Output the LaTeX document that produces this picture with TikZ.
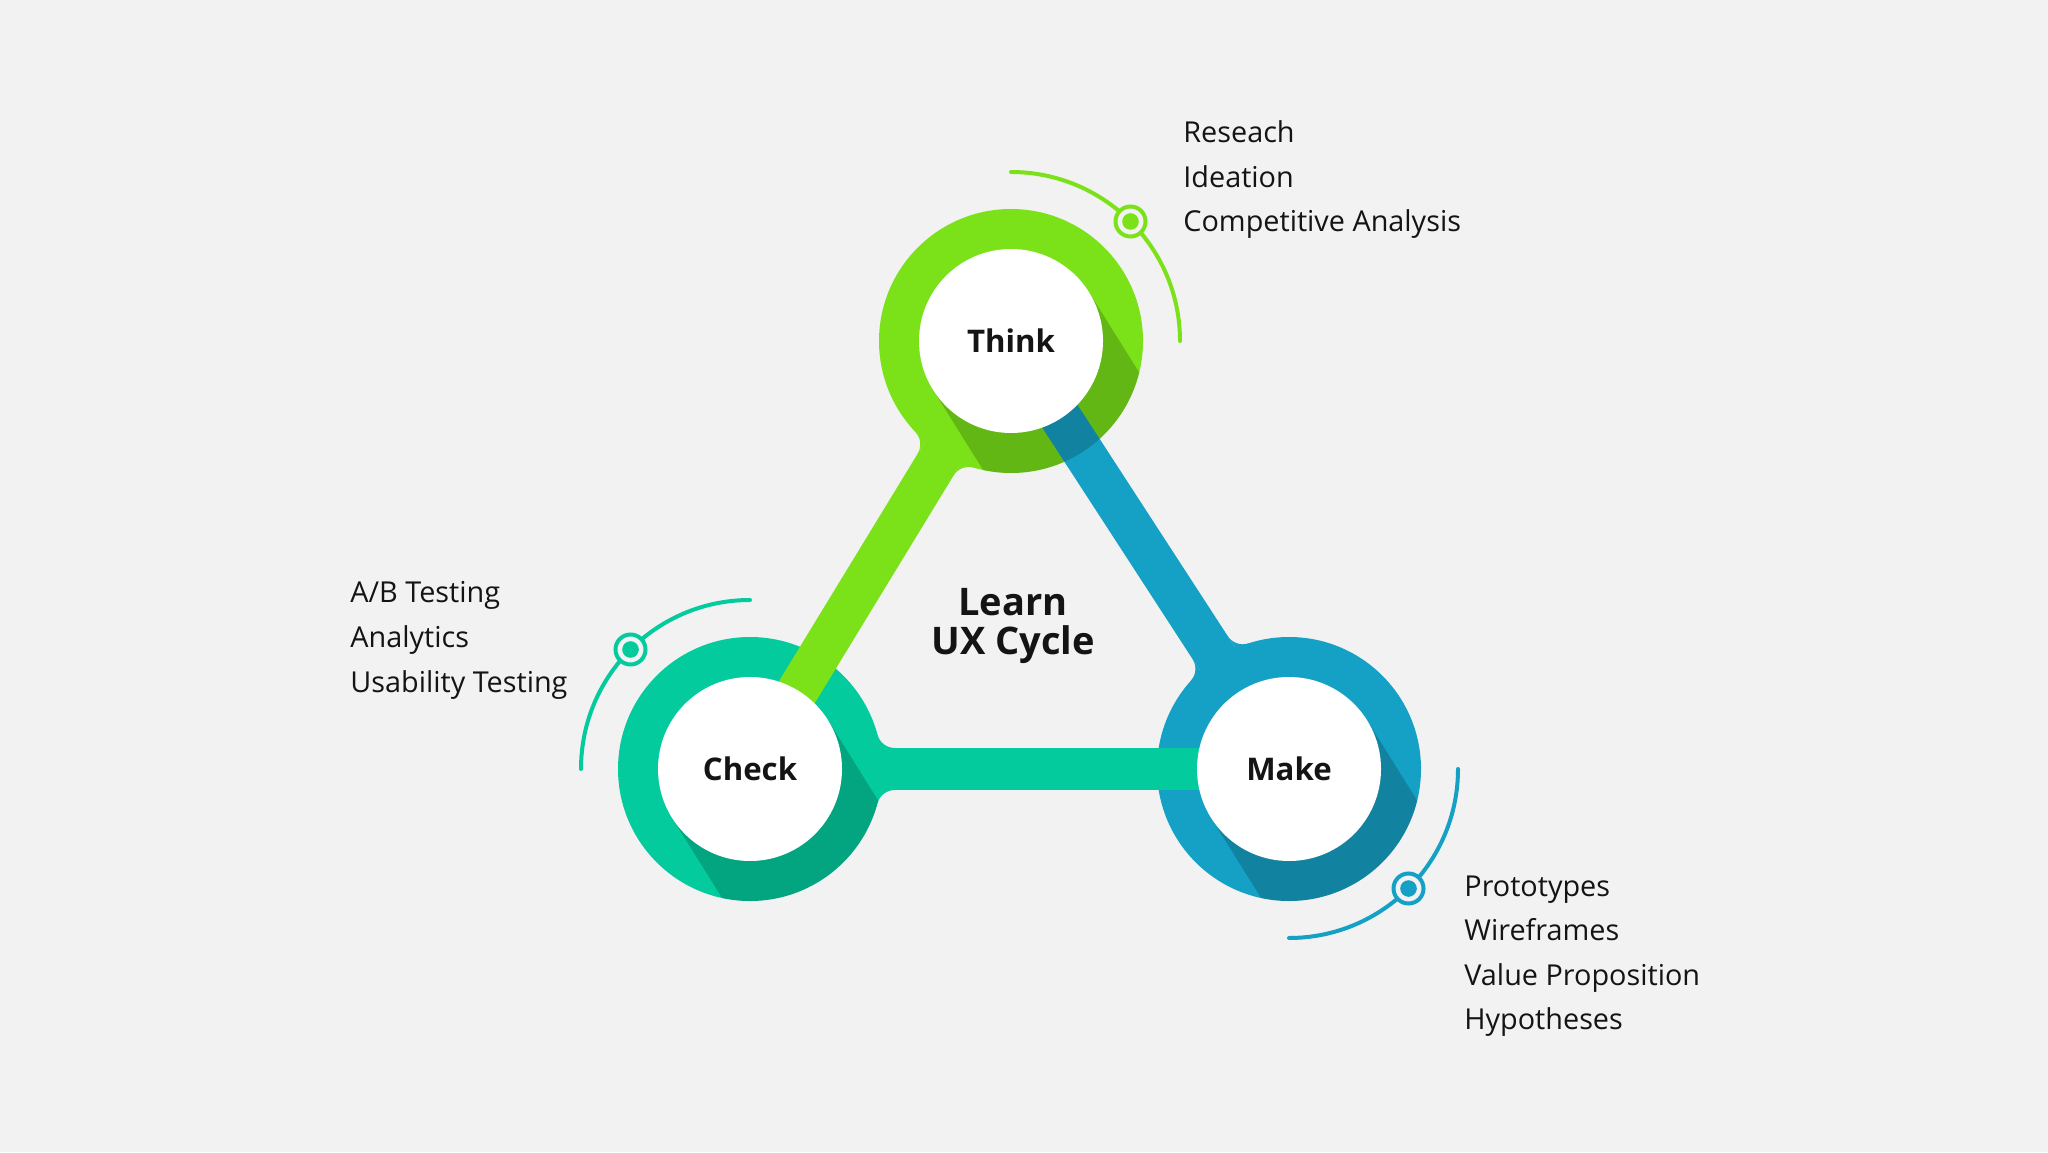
\documentclass[tikz,border=0pt]{standalone}
\usepackage{fontspec}
\setmainfont{Open Sans}
\usetikzlibrary{positioning}
\definecolor{uxbg}{RGB}{242,242,242}
\definecolor{uxgreen}{RGB}{123,226,25}
\definecolor{uxteal}{RGB}{4,203,158}
\definecolor{uxblue}{RGB}{21,161,197}
\definecolor{uxtext}{RGB}{20,20,20}
\tikzset{
  ring/.style={circle, fill=#1, minimum size=132pt, inner sep=0pt
  },
  hole/.style={circle, fill=white, minimum size=92pt, inner sep=0pt, text=uxtext,
    font=\fontsize{15.6}{18}\selectfont\bfseries
  },
  bar/.style={draw=#1, line width=21pt
  },
  orbit/.style={draw=#1, line width=2pt, line cap=round
  },
  marker/.style={circle, draw=#1, fill=uxbg, line width=2pt, minimum size=15pt, inner sep=0pt,
    path picture={\fill[#1] (path picture bounding box.center) circle (4.15pt);}
  },
  hub/.style={anchor=base, inner sep=0pt, text=uxtext,
    font=\fontsize{19}{20}\selectfont\bfseries
  },
  item/.style={anchor=base west, inner sep=0pt, text=uxtext,
    font=\fontsize{14.4}{18}\selectfont
  }
}
\begin{document}
\begin{tikzpicture}[x=0.5pt,y=0.5pt]
 \fill[uxbg] (0,0) rectangle (2048,1152);
 \useasboundingbox (0,0) rectangle (2048,1152);

 \node[ring=uxgreen] (think-ring) at (1011,811) {};
 \node[ring=uxteal] (check-ring) at (750,383) {};
 \node[ring=uxblue] (make-ring) at (1289,383) {};

 % rounded joints where each bar leaves its ring
 \foreach \src/\ang/\col in {think/238.6/uxgreen, check/0/uxteal, make/123/uxblue} {
   \begin{scope}[shift={(\src-ring.center)}, rotate=\ang]
     \fill[\col] (0,0) -- (15.07:132) arc[start angle=195.07, end angle=270, radius=18] -- (0,21) -- cycle;
     \fill[\col] (0,0) -- (-15.07:132) arc[start angle=-195.07, end angle=-270, radius=18] -- (0,-21) -- cycle;
   \end{scope}
 }

 \draw[bar=uxgreen] (think-ring.center) -- (check-ring.center);
 \draw[bar=uxteal] (check-ring.center) -- (make-ring.center);
 \draw[bar=uxblue] (make-ring.center) -- (think-ring.center);

 % long shadows
 \foreach \src in {think, check, make} {
   \begin{scope}[shift={(\src-ring.center)}, rotate=-58]
     \clip (0,0) circle (132);
     \fill[black, opacity=0.19] (0,-92) rectangle (180,92);
   \end{scope}
 }

 \node[hole] (think) at (think-ring) {Think};
 \node[hole] (check) at (check-ring) {Check};
 \node[hole] (make) at (make-ring) {Make};

 \node[hub] (learn) at (1013,537) {Learn};
 \node[hub] (cycle) at (1013,497) {UX Cycle};

 \draw[orbit=uxgreen] ([shift={(90:169)}]think-ring.center) arc[start angle=90, end angle=0, radius=169];
 \draw[orbit=uxteal] ([shift={(90:169)}]check-ring.center) arc[start angle=90, end angle=180, radius=169];
 \draw[orbit=uxblue] ([shift={(0:169)}]make-ring.center) arc[start angle=0, end angle=-90, radius=169];
 \node[marker=uxgreen] (think-dot) at ([shift={(45:169)}]think-ring.center) {};
 \node[marker=uxteal] (check-dot) at ([shift={(135:169)}]check-ring.center) {};
 \node[marker=uxblue] (make-dot) at ([shift={(-45:169)}]make-ring.center) {};

 \foreach \t [count=\i] in {Reseach, Ideation, Competitive Analysis} {
   \node[item] (think-\i) at (1183,{1009.3-(\i-1)*44.5}) {\t};
 }
 \foreach \t [count=\i] in {A/B Testing, Analytics, Usability Testing} {
   \node[item] (check-\i) at (350,{549-(\i-1)*44.8}) {\t};
 }
 \foreach \t [count=\i] in {Prototypes, Wireframes, Value Proposition, Hypotheses} {
   \node[item] (make-\i) at (1464,{256-(\i-1)*44.6}) {\t};
 }
\end{tikzpicture}
\end{document}
